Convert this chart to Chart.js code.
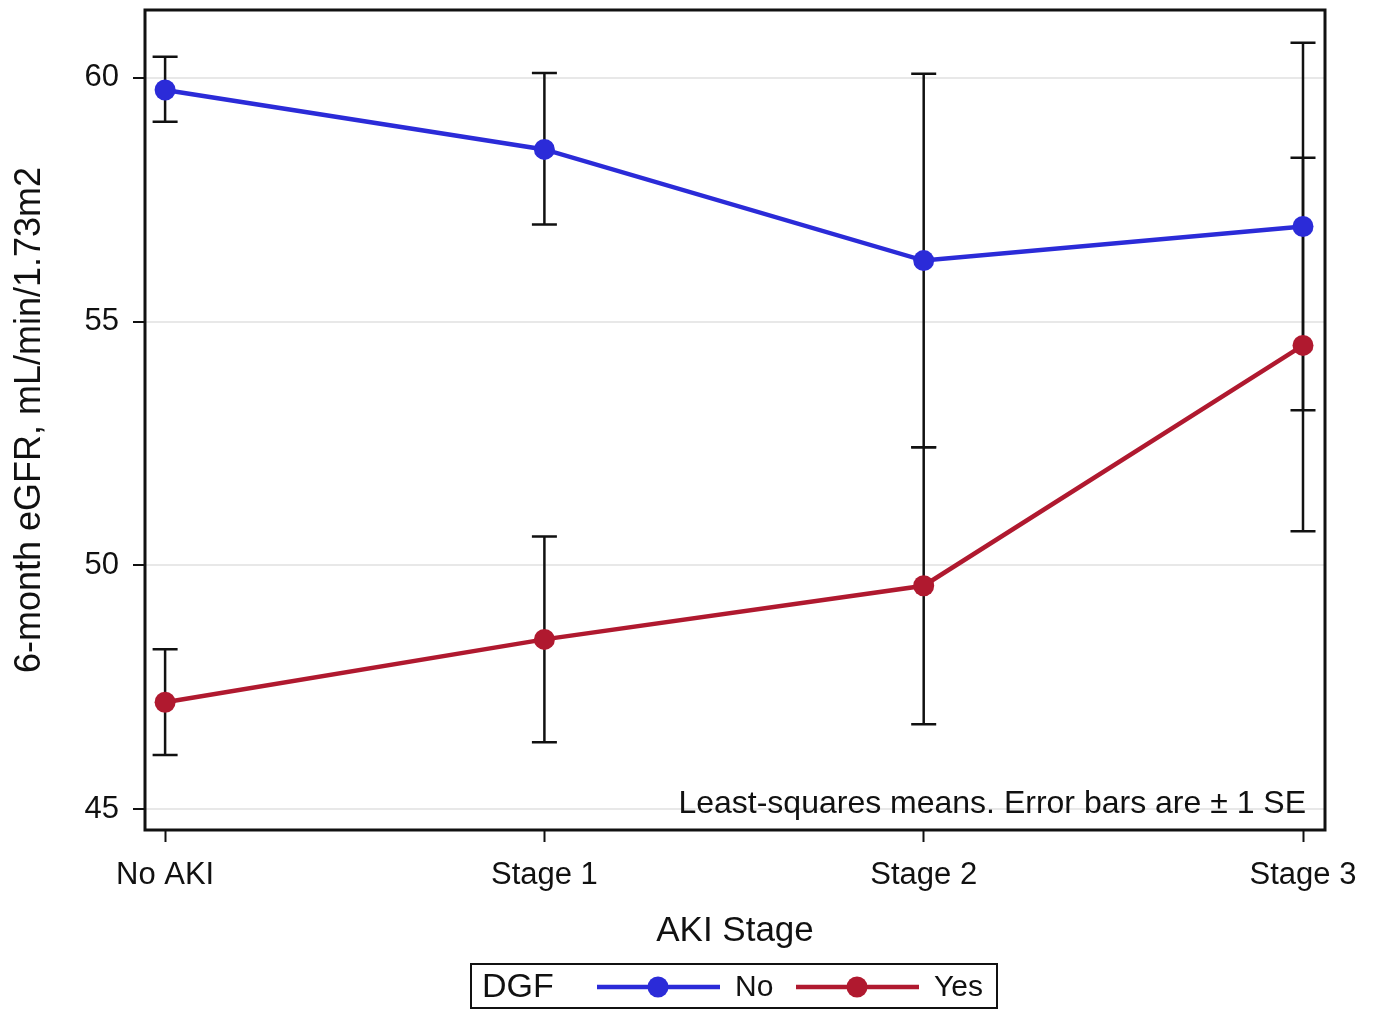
<!DOCTYPE html>
<html>
<head>
<meta charset="utf-8">
<script src="https://cdn.jsdelivr.net/npm/chart.js@4/dist/chart.umd.min.js"></script>
<style>
  html, body { margin: 0; padding: 0; background: #fff; }
  #wrap { width: 1376px; height: 1011px; }
</style>
</head>
<body>
<div id="wrap"><canvas id="grafica" width="1376" height="1011"></canvas></div>
<script>
// datos
const categorias = ["No AKI", "Stage 1", "Stage 2", "Stage 3"];
const yTicks = [45, 50, 55, 60];

const mediasNo = [59.75, 58.53, 56.25, 56.95];
const inferiorNo = [59.10, 56.99, 52.42, 53.18];
const superiorNo = [60.43, 60.10, 60.08, 60.72];

const mediasSi = [47.19, 48.48, 49.58, 54.51];
const inferiorSi = [46.11, 46.37, 46.74, 50.70];
const superiorSi = [48.28, 50.59, 52.42, 58.36];

const azul = "#2b2bd8";
const rojo = "#b0192f";
const fuente = "'Liberation Sans', Arial, sans-serif";

const toPoints = (arr) => arr.map((v, i) => ({ x: i, y: v }));

// barras de error (+/- 1 SE) dibujadas con las escalas del grafico
const barrasError = {
  id: "barrasError",
  beforeDatasetsDraw(chart) {
    const { ctx, scales } = chart;
    const series = [
      [inferiorNo, superiorNo],
      [inferiorSi, superiorSi],
    ];
    ctx.save();
    ctx.strokeStyle = "#111";
    ctx.lineWidth = 2.5;
    series.forEach(([lo, hi]) => {
      lo.forEach((v, i) => {
        const x = scales.x.getPixelForValue(i);
        const y1 = scales.y.getPixelForValue(v);
        const y2 = scales.y.getPixelForValue(hi[i]);
        ctx.beginPath();
        ctx.moveTo(x, y1);
        ctx.lineTo(x, y2);
        ctx.moveTo(x - 12.5, y1);
        ctx.lineTo(x + 12.5, y1);
        ctx.moveTo(x - 12.5, y2);
        ctx.lineTo(x + 12.5, y2);
        ctx.stroke();
      });
    });
    ctx.restore();
  },
  afterDraw(chart) {
    const { ctx, chartArea } = chart;
    ctx.save();
    // marco del area de grafico
    ctx.strokeStyle = "#111";
    ctx.lineWidth = 3;
    ctx.strokeRect(chartArea.left, chartArea.top, chartArea.right - chartArea.left, chartArea.bottom - chartArea.top);

    // nota
    ctx.fillStyle = "#111";
    ctx.font = "32px " + fuente;
    ctx.textAlign = "right";
    ctx.textBaseline = "middle";
    ctx.fillText("Least-squares means. Error bars are \u00b1 1 SE", chartArea.right - 19, 804);

    // leyenda
    ctx.lineWidth = 2;
    ctx.strokeRect(471, 964, 526, 44);
    ctx.textAlign = "left";
    ctx.font = "34px " + fuente;
    ctx.fillText("DGF", 482, 988);
    const items = [
      { label: "No", color: azul, x0: 597 },
      { label: "Yes", color: rojo, x0: 796 },
    ];
    items.forEach((it) => {
      ctx.strokeStyle = it.color;
      ctx.lineWidth = 4.5;
      ctx.beginPath();
      ctx.moveTo(it.x0, 987);
      ctx.lineTo(it.x0 + 123, 987);
      ctx.stroke();
      ctx.fillStyle = it.color;
      ctx.beginPath();
      ctx.arc(it.x0 + 61, 987, 10.5, 0, Math.PI * 2);
      ctx.fill();
      ctx.fillStyle = "#111";
      ctx.font = "30px " + fuente;
      ctx.fillText(it.label, it.x0 + 138, 988);
    });
    ctx.restore();
  },
};

const config = {
  type: "line",
  data: {
    datasets: [
      {
        label: "No",
        data: toPoints(mediasNo),
        borderColor: azul,
        backgroundColor: azul,
        borderWidth: 4.5,
        pointRadius: 10.5,
        pointHoverRadius: 10.5,
        pointBorderWidth: 0,
      },
      {
        label: "Yes",
        data: toPoints(mediasSi),
        borderColor: rojo,
        backgroundColor: rojo,
        borderWidth: 4.5,
        pointRadius: 10.5,
        pointHoverRadius: 10.5,
        pointBorderWidth: 0,
      },
    ],
  },
  options: {
    responsive: false,
    animation: false,
    layout: { autoPadding: false, padding: { top: 10, right: 51, left: 0, bottom: 0 } },
    plugins: { legend: { display: false }, tooltip: { enabled: false } },
    scales: {
      x: {
        type: "linear",
        min: -0.053,
        max: 3.058,
        afterBuildTicks: (scale) => {
          scale.ticks = categorias.map((c, i) => ({ value: i }));
        },
        afterFit: (scale) => {
          scale.height = 181;
          scale.paddingLeft = 0;
          scale.paddingRight = 0;
        },
        ticks: {
          callback: (v) => categorias[v],
          color: "#111",
          font: { family: fuente, size: 31 },
          padding: 15,
          maxRotation: 0,
          autoSkip: false,
        },
        grid: { drawOnChartArea: false, tickLength: 12, tickColor: "#111", tickWidth: 2 },
        border: { display: false },
        title: {
          display: true,
          text: "AKI Stage",
          color: "#111",
          font: { family: fuente, size: 35 },
          padding: { top: 0, bottom: 59 },
        },
      },
      y: {
        min: 44.57,
        max: 61.39,
        afterBuildTicks: (scale) => {
          scale.ticks = yTicks.map((v) => ({ value: v }));
        },
        afterFit: (scale) => {
          scale.width = 145;
          scale.paddingTop = 0;
          scale.paddingBottom = 0;
        },
        ticks: {
          color: "#111",
          font: { family: fuente, size: 31 },
          padding: 14,
        },
        grid: { color: "#e8e8e8", lineWidth: 2, tickLength: 12, tickColor: "#111", tickWidth: 2 },
        border: { display: false },
        title: {
          display: true,
          text: "6-month eGFR, mL/min/1.73m2",
          color: "#111",
          font: { family: fuente, size: 36 },
          padding: { top: 8, bottom: 0 },
        },
      },
    },
  },
  plugins: [barrasError],
};

const ctx = document.getElementById("grafica").getContext("2d");
new Chart(ctx, config);
</script>
</body>
</html>
